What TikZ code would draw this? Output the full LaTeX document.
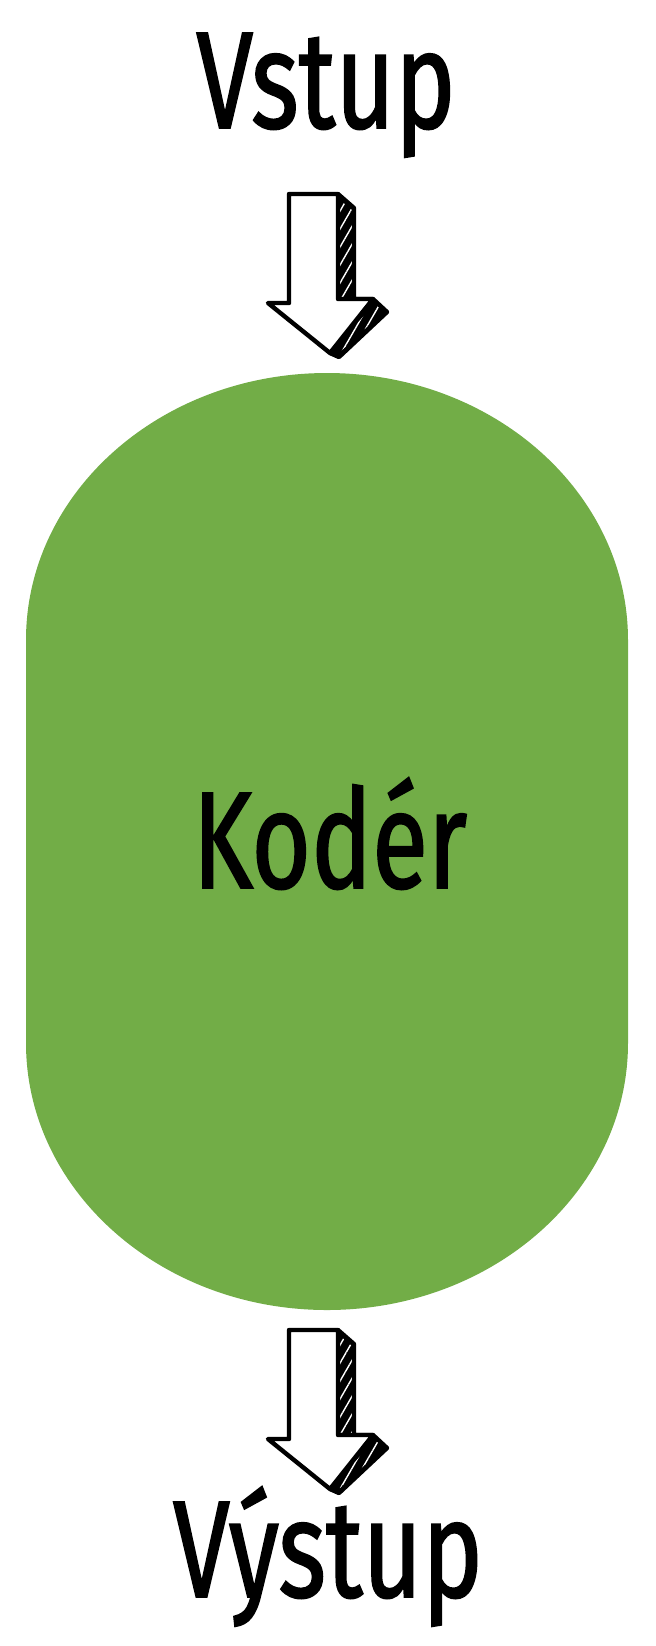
\documentclass[tikz,border=0pt]{standalone}
\usepackage{fontspec}
\newfontfamily\popisfont[FakeStretch=0.74,FakeBold=1.2]{Fira Sans}
\usetikzlibrary{patterns.meta}
\definecolor{koderzelena}{RGB}{114,173,71}
\tikzset{
  popis/.style={font=\popisfont\fontsize{69}{80}\selectfont, inner sep=0pt, anchor=base},
  obrys/.style={draw=black, line width=2.2pt, line join=round, fill=white},
  srafa/.style={pattern={Lines[angle=60,distance=4.5pt,line width=0.7pt]}, pattern color=white},
}
\begin{document}
\begin{tikzpicture}[x=0.5pt,y=0.5pt]
    \useasboundingbox (0,0) rectangle (656,-1646);
    % koder
    \fill [koderzelena] (26,-640) arc[start angle=180, end angle=0, x radius=301, y radius=267]
        -- (628,-1043) arc[start angle=0, end angle=-180, x radius=301, y radius=267] -- cycle;
    \node [popis] (koder) at (330,-888) {Kodér};
    % texty
    \node [popis] (vstup) at (326,-128) {Vstup};
    \node [popis] (vystup) at (328,-1597) {Výstup};
    % sipky
    \foreach \dy in {0,-1136} {
        \begin{scope}[yshift=\dy*0.5pt]
            \fill [black] (338,-194) -- (354,-208) -- (354,-299) -- (338,-299) -- cycle;
            \fill [black] (373,-299) -- (387,-312) -- (339,-357) -- (330,-353) -- cycle;
            \fill [srafa] (340,-200) -- (352,-210) -- (352,-297) -- (340,-297) -- cycle;
            \fill [srafa] (375,-303) -- (383,-312) -- (340,-352) -- (334,-350) -- cycle;
            \draw [black, line width=2.2pt, line join=round] (338,-194) -- (354,-208) -- (354,-299) -- (373,-299)
                -- (387,-312) -- (339,-357) -- (330,-353);
            \draw [obrys] (289,-194) -- (338,-194) -- (338,-299) -- (373,-299) -- (330,-353)
                -- (268,-303) -- (289,-303) -- cycle;
        \end{scope}
    }
\end{tikzpicture}
\end{document}
